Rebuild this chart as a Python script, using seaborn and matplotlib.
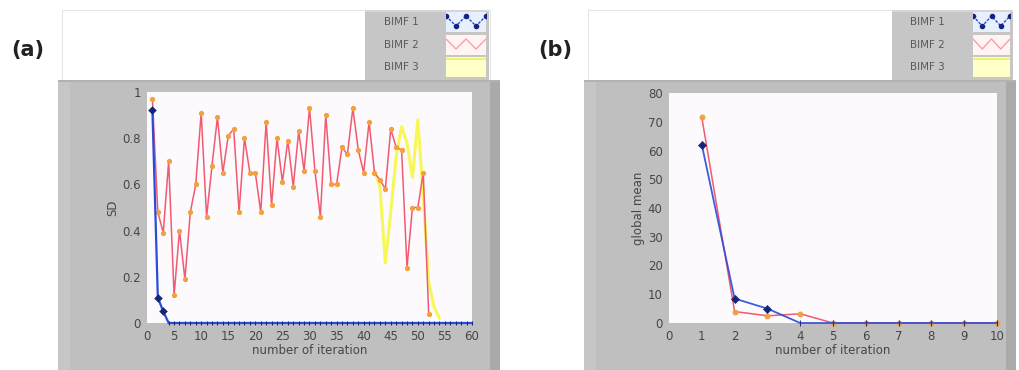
import matplotlib
matplotlib.use("Agg")
import matplotlib.pyplot as plt
from matplotlib.patches import Rectangle
import seaborn as sns
import pandas as pd

# ---------------- data ----------------
# panel (a): SD vs number of iteration
a_bimf1_x = list(range(1, 61))
a_bimf1_y = [0.92, 0.11, 0.05, 0, 0, 0, 0, 0, 0, 0,
             0, 0, 0, 0, 0, 0, 0, 0, 0, 0,
             0, 0, 0, 0, 0, 0, 0, 0, 0, 0,
             0, 0, 0, 0, 0, 0, 0, 0, 0, 0,
             0, 0, 0, 0, 0, 0, 0, 0, 0, 0,
             0, 0, 0, 0, 0, 0, 0, 0, 0, 0]
a_bimf2_x = list(range(1, 53))
a_bimf2_y = [0.97, 0.48, 0.39, 0.70, 0.12, 0.40, 0.19, 0.48, 0.60, 0.91,
             0.46, 0.68, 0.89, 0.65, 0.81, 0.84, 0.48, 0.80, 0.65, 0.65,
             0.48, 0.87, 0.51, 0.80, 0.61, 0.79, 0.59, 0.83, 0.66, 0.93,
             0.66, 0.46, 0.90, 0.60, 0.60, 0.76, 0.73, 0.93, 0.75, 0.65,
             0.87, 0.65, 0.62, 0.58, 0.84, 0.76, 0.75, 0.24, 0.50, 0.50,
             0.65, 0.04]
a_bimf3_x = list(range(42, 55))
a_bimf3_y = [0.66, 0.59, 0.26, 0.48, 0.72, 0.85, 0.78, 0.63, 0.88, 0.55,
             0.18, 0.07, 0.02]

# panel (b): global mean vs number of iteration
b_x = [1, 2, 3, 4, 5, 6, 7, 8, 9, 10]
b_bimf1_y = [62, 8.5, 5, 0, 0, 0, 0, 0, 0, 0]
b_bimf2_y = [71.5, 4, 2.5, 3.2, 0, 0, 0, 0, 0, 0]

a_xticks = [0, 5, 10, 15, 20, 25, 30, 35, 40, 45, 50, 55, 60]
a_yticks = [0, 0.2, 0.4, 0.6, 0.8, 1]
a_yticklabels = ["0", "0.2", "0.4", "0.6", "0.8", "1"]
b_xticks = [0, 1, 2, 3, 4, 5, 6, 7, 8, 9, 10]
b_yticks = [0, 10, 20, 30, 40, 50, 60, 70, 80]
legend_names = ["BIMF 1", "BIMF 2", "BIMF 3"]

# ---------------- styles ----------------
sns.set_style("white")
plt.rcParams["font.family"] = ["DejaVu Sans"]

W, H = 1020, 370
fig = plt.figure(figsize=(W / 100, H / 100), dpi=100)
fig.patch.set_facecolor("white")

BLUE = "#2a4bd8"
BLUE_M = "#15267a"
RED = "#f25a70"
RED_M = "#f4a040"
YEL = "#f7f75a"
GRAY = "#bfbfbf"
TXT = "#464646"


def box(x0, y0, x1, y1):
    return [x0 / W, 1 - y1 / H, (x1 - x0) / W, (y1 - y0) / H]


def rect(x0, y0, x1, y1, fc, ec="none", lw=0.8, z=0):
    fig.add_artist(Rectangle((x0 / W, 1 - y1 / H), (x1 - x0) / W, (y1 - y0) / H,
                             transform=fig.transFigure, facecolor=fc,
                             edgecolor=ec, linewidth=lw, zorder=z))


def panel_frame(x0, x1, leg_x0, leg_x1):
    rect(x0 + 4, 10, x1 - 10, 82, "white", ec="#e6e6e6", lw=0.8)
    rect(x0, 80, x1, 370, GRAY)
    rect(x0, 80, x0 + 12, 370, "#c6c6c6")
    rect(x1 - 10, 80, x1, 370, "#aaaaaa")
    rect(x0, 80, x1, 82, "#b2b2b2")
    rect(leg_x0, 10, leg_x1, 80, "#c6c6c6")
    rect(leg_x0, 10, leg_x1, 12, "#d6d6d6")


def legend(x_text, sw_x0, sw_x1):
    rows = [22, 45, 67]
    bgs = ["#e8efff", "#fff3f3", "#ffffc8"]
    for i, (name, y, bg) in enumerate(zip(legend_names, rows, bgs)):
        fig.text(x_text / W, 1 - y / H, name, fontsize=7.5, color="#5a5a5a",
                 ha="left", va="center")
        sax = fig.add_axes(box(sw_x0, y - 10, sw_x1, y + 10))
        sax.set_facecolor(bg)
        for s in sax.spines.values():
            s.set_visible(False)
        sax.set_xticks([])
        sax.set_yticks([])
        sax.set_xlim(0, 4)
        sax.set_ylim(0, 1)
        xs = [0, 1, 2, 3, 4]
        ys = [0.8, 0.3, 0.8, 0.3, 0.8]
        if i == 0:
            sax.plot(xs, ys, color=BLUE, lw=1, ls=(0, (2, 1)), marker="o",
                     ms=3, mfc=BLUE_M, mec=BLUE_M)
        elif i == 1:
            sax.plot(xs, ys, color=RED, lw=0.9, alpha=0.6)
        else:
            sax.axhline(0.9, color="#f0f060", lw=1.2)


def style_axes(ax, xlim, ylim, xticks, yticks, yticklabels, xlabel, ylabel):
    ax.set_facecolor("#fcfafd")
    ax.set_xlim(*xlim)
    ax.set_ylim(*ylim)
    ax.set_xticks(xticks)
    ax.set_yticks(yticks)
    ax.set_yticklabels(yticklabels)
    for s in ax.spines.values():
        s.set_visible(False)
    ax.tick_params(axis="both", direction="out", length=3, width=0.8,
                   color="#444444", labelcolor=TXT, labelsize=8.5, pad=1.5)
    ax.tick_params(axis="x", pad=2)
    ax.set_xlabel(xlabel, fontsize=8.5, color=TXT, labelpad=1)
    ax.set_ylabel(ylabel, fontsize=8.5, color=TXT, labelpad=2)
    ax.grid(False)


# ---------------- panel (a) ----------------
panel_frame(58, 500, 365, 489)
legend(384, 446, 486)
fig.text(28 / W, 1 - 50 / H, "(a)", fontsize=15, fontweight="bold",
         color="#222222", ha="center", va="center")

axa = fig.add_axes(box(147, 92, 472, 323))
df_a1 = pd.DataFrame({"x": a_bimf1_x, "y": a_bimf1_y})
df_a2 = pd.DataFrame({"x": a_bimf2_x, "y": a_bimf2_y})
df_a3 = pd.DataFrame({"x": a_bimf3_x, "y": a_bimf3_y})
sns.lineplot(data=df_a3, x="x", y="y", ax=axa, color=YEL, lw=2.2,
             estimator=None, sort=False, zorder=3)
sns.lineplot(data=df_a2, x="x", y="y", ax=axa, color=RED, lw=1.1,
             marker="o", markersize=3, markerfacecolor=RED_M,
             markeredgecolor=RED_M, estimator=None, sort=False, zorder=4)
sns.lineplot(data=df_a1, x="x", y="y", ax=axa, color=BLUE, lw=1.6,
             marker="|", markersize=3, markerfacecolor=BLUE_M,
             markeredgecolor=BLUE_M, estimator=None, sort=False, zorder=5,
             clip_on=False)
sns.scatterplot(data=df_a1.head(3), x="x", y="y", ax=axa, color=BLUE_M,
                marker="D", s=16, edgecolor=BLUE_M, zorder=6, clip_on=False)
style_axes(axa, (0, 60), (0, 1), a_xticks, a_yticks, a_yticklabels,
           "number of iteration", "SD")

# ---------------- panel (b) ----------------
panel_frame(584, 1016, 892, 1013)
legend(910, 973, 1010)
fig.text(555 / W, 1 - 50 / H, "(b)", fontsize=15, fontweight="bold",
         color="#222222", ha="center", va="center")

axb = fig.add_axes(box(669, 93, 997, 323))
df_b1 = pd.DataFrame({"x": b_x, "y": b_bimf1_y})
df_b2 = pd.DataFrame({"x": b_x, "y": b_bimf2_y})
sns.lineplot(data=df_b2, x="x", y="y", ax=axb, color=RED, lw=1.1,
             marker="o", markersize=3.5, markerfacecolor=RED_M,
             markeredgecolor=RED_M, estimator=None, sort=False, zorder=4,
             clip_on=False)
sns.lineplot(data=df_b1, x="x", y="y", ax=axb, color=BLUE, lw=1.3,
             marker="|", markersize=4, markerfacecolor=BLUE_M,
             markeredgecolor=BLUE_M, estimator=None, sort=False, zorder=5,
             clip_on=False, alpha=0.9)
sns.scatterplot(data=df_b1.head(3), x="x", y="y", ax=axb, color=BLUE_M,
                marker="D", s=18, edgecolor=BLUE_M, zorder=6, clip_on=False)
style_axes(axb, (0, 10), (0, 80), b_xticks, b_yticks,
           [str(v) for v in b_yticks], "number of iteration", "global mean")

for ax in (axa, axb):
    if ax.get_legend() is not None:
        ax.get_legend().remove()

fig.savefig("out.png", dpi=100)
